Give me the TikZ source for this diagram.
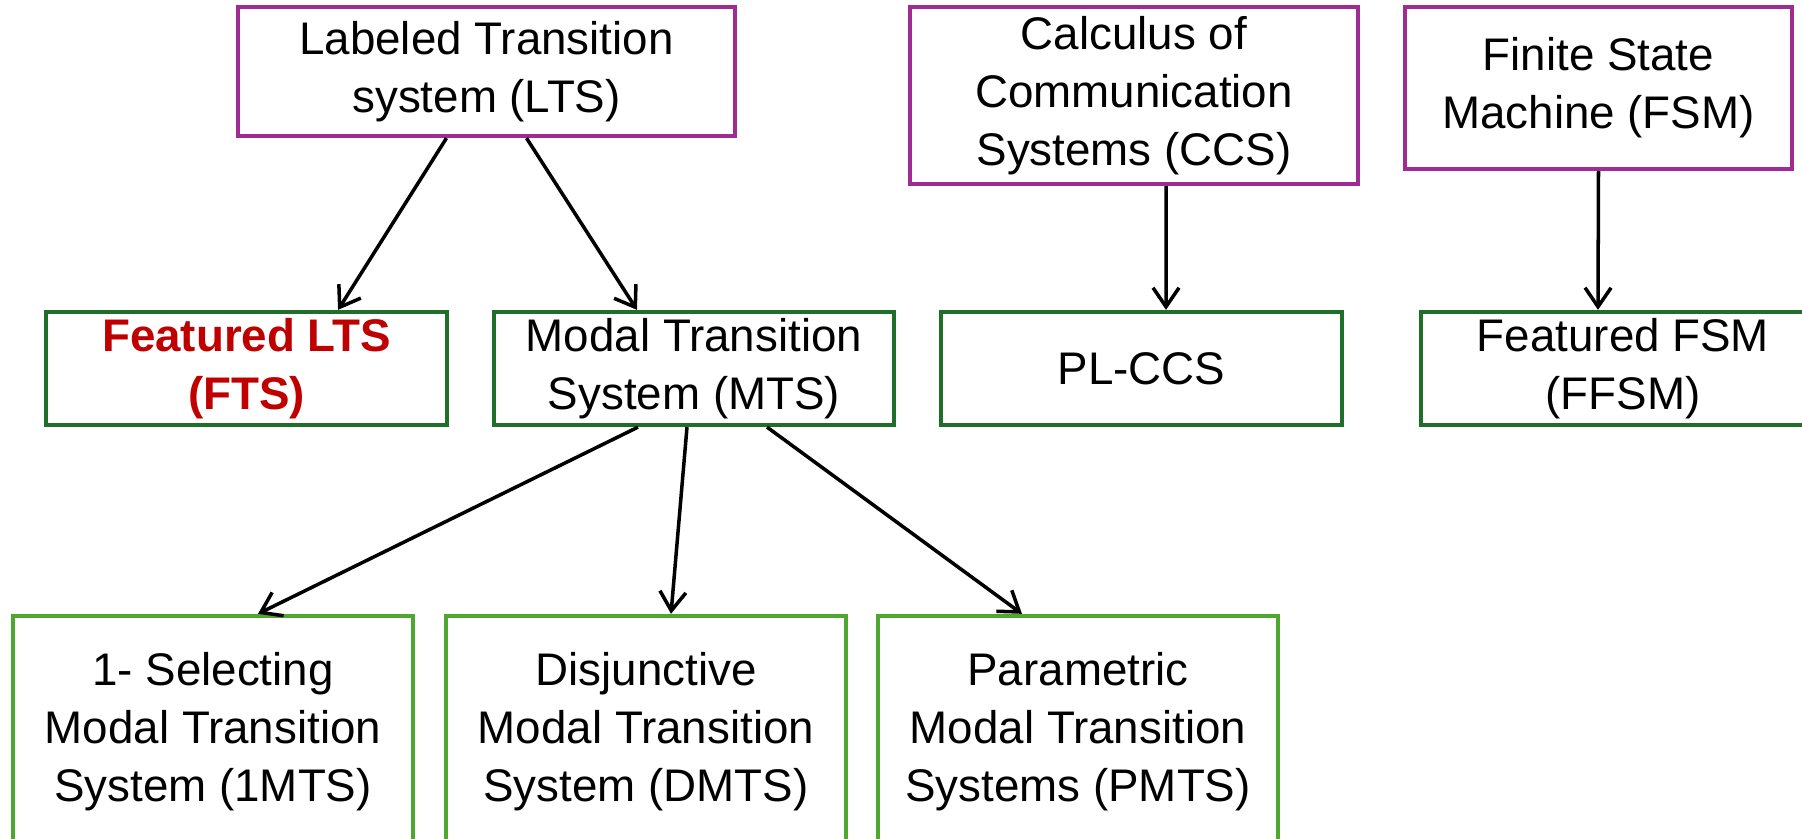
\documentclass[tikz,border=0pt]{standalone}
\usepackage{fontspec}
\setmainfont{Liberation Sans}
\usetikzlibrary{arrows.meta}
\definecolor{boxpurple}{HTML}{A02B93}
\definecolor{boxgreen}{HTML}{1F6F2B}
\definecolor{leafgreen}{HTML}{4EA72E}
\definecolor{ftsred}{HTML}{C00000}
\begin{document}
\begin{tikzpicture}[x=0.01cm, y=-0.01cm,
    box/.style={draw, rectangle, align=center, inner sep=0pt, line width=1.2pt,
        font=\fontsize{13pt}{16.5pt}\selectfont},
    topbox/.style={box, draw=boxpurple},
    midbox/.style={box, draw=boxgreen, minimum height=1.13cm},
    lowbox/.style={box, draw=leafgreen, minimum width=4cm, minimum height=2.32cm},
    arr/.style={-{Straight Barb[length=0.19cm, width=0.26cm]}, line width=1pt}]
        % Page frame (bottom row and right box run off the edge)
        \clip (0,0) rectangle (1802,839);
        \fill[white] (0,0) rectangle (1802,839);

        % Top row
        \node[topbox, minimum width=4.97cm, minimum height=1.29cm] (lts) at (486.5,71.5) {Labeled Transition\\system (LTS)};
        \node[topbox, minimum width=4.48cm, minimum height=1.77cm] (ccs) at (1134,95.5) {Calculus of\\Communication\\Systems (CCS)};
        \node[topbox, minimum width=3.87cm, minimum height=1.62cm] (fsm) at (1598.5,88) {Finite State\\Machine (FSM)};

        % Middle row
        \node[midbox, minimum width=4.01cm, text=ftsred, font=\fontsize{13pt}{16.5pt}\selectfont\bfseries] (fts) at (246.5,368.5) {Featured LTS\\(FTS)};
        \node[midbox, minimum width=4cm] (mts) at (694,368.5) {Modal Transition\\System (MTS)};
        \node[midbox, minimum width=4.01cm] (plccs) at (1141.5,368.5) {PL-CCS};
        \node[midbox, minimum width=4.04cm] (ffsm) at (1623,368.5) {Featured FSM\\(FFSM)};

        % Bottom row
        \node[lowbox] (onemts) at (213,732) {1- Selecting\\Modal Transition\\System (1MTS)};
        \node[lowbox] (dmts) at (646,732) {Disjunctive\\Modal Transition\\System (DMTS)};
        \node[lowbox] (pmts) at (1078,732) {Parametric\\Modal Transition\\Systems (PMTS)};

        % Arrows
        \draw[arr] ([xshift=-0.4cm]lts.south) -- ([xshift=0.915cm]fts.north);
        \draw[arr] ([xshift=0.4cm]lts.south) -- ([xshift=-0.57cm]mts.north);
        \draw[arr] ([xshift=0.32cm]ccs.south) -- ([xshift=0.245cm]plccs.north);
        \draw[arr] (fsm.south) -- ([xshift=-0.25cm]ffsm.north);

        \draw[arr] ([xshift=-0.56cm]mts.south) -- ([xshift=0.45cm]onemts.north);
        \draw[arr] ([xshift=-0.07cm]mts.south) -- ([xshift=0.25cm]dmts.north);
        \draw[arr] ([xshift=0.73cm]mts.south) -- ([xshift=-0.56cm]pmts.north);
\end{tikzpicture}
\end{document}
